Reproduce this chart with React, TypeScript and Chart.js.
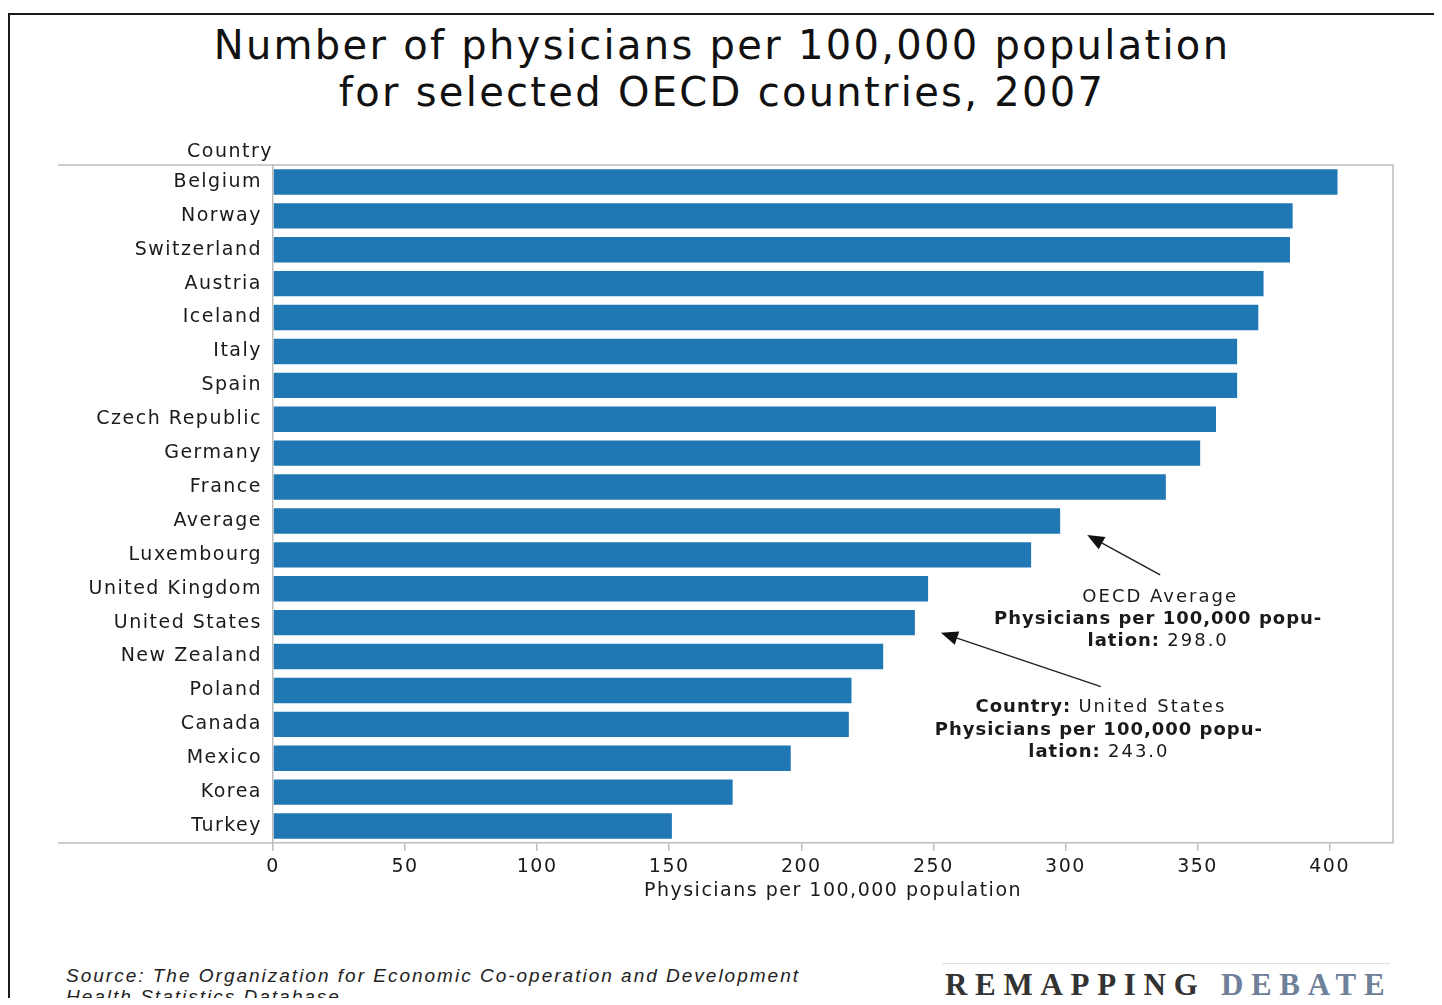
import { useEffect, useRef } from "react";
import { Chart, registerables } from "chart.js";

Chart.register(...registerables);

const countries = [
  "Belgium", "Norway", "Switzerland", "Austria", "Iceland", "Italy", "Spain",
  "Czech Republic", "Germany", "France", "Average", "Luxembourg",
  "United Kingdom", "United States", "New Zealand", "Poland", "Canada",
  "Mexico", "Korea", "Turkey",
];
const physicians = [
  403, 386, 385, 375, 373, 365, 365, 357, 351, 338, 298, 287, 248, 243, 231,
  219, 218, 196, 174, 151,
];
const xStep = 50;
const xMax = 424;
const titleLines = [
  "Number of physicians per 100,000 population",
  "for selected OECD countries, 2007",
];
const xTitle = "Physicians per 100,000 population";
const yTitle = "Country";
const sourceLines = [
  "Source: The Organization for Economic Co-operation and Development",
  "Health Statistics Database",
];
const avgLabel = "Average";
const usLabel = "United States";

const FONT = '"DejaVu Sans", Verdana, sans-serif';
const SPACING = "1.5px";

type Part = [string, boolean];

function drawRich(ctx: CanvasRenderingContext2D, parts: Part[], cx: number, cy: number) {
  const setF = (b: boolean) => {
    ctx.font = (b ? "bold " : "") + "18px " + FONT;
    (ctx as any).letterSpacing = b ? "1px" : "2px";
  };
  const widths = parts.map(([t, b]) => {
    setF(b);
    return ctx.measureText(t).width;
  });
  const total = widths.reduce((a, b) => a + b, 0);
  let x = cx - total / 2;
  ctx.textAlign = "left";
  ctx.textBaseline = "middle";
  parts.forEach(([t, b], i) => {
    setF(b);
    ctx.fillText(t, x, cy);
    x += widths[i];
  });
}

function drawArrow(ctx: CanvasRenderingContext2D, x1: number, y1: number, x2: number, y2: number) {
  const ang = Math.atan2(y2 - y1, x2 - x1);
  const len = 17;
  const half = 7;
  const bx = x2 - len * Math.cos(ang);
  const by = y2 - len * Math.sin(ang);
  ctx.strokeStyle = "#222";
  ctx.fillStyle = "#111";
  ctx.lineWidth = 1.5;
  ctx.beginPath();
  ctx.moveTo(x1, y1);
  ctx.lineTo(bx, by);
  ctx.stroke();
  ctx.beginPath();
  ctx.moveTo(x2, y2);
  ctx.lineTo(bx + half * Math.sin(ang), by - half * Math.cos(ang));
  ctx.lineTo(bx - half * Math.sin(ang), by + half * Math.cos(ang));
  ctx.closePath();
  ctx.fill();
}

const framePlugin = {
  id: "frame",
  beforeLayout(chart: any) {
    chart.ctx.letterSpacing = SPACING;
  },
  beforeDraw(chart: any) {
    chart.ctx.letterSpacing = SPACING;
  },
  afterDraw(chart: any) {
    const ctx: CanvasRenderingContext2D = chart.ctx;
    const ca = chart.chartArea;
    const xs = chart.scales.x;
    const ys = chart.scales.y;
    ctx.save();
    ctx.strokeStyle = "#bdbdbd";
    ctx.lineWidth = 1.5;
    ctx.beginPath();
    ctx.moveTo(ca.left - 215, ca.top);
    ctx.lineTo(ca.right, ca.top);
    ctx.lineTo(ca.right, ca.bottom);
    ctx.moveTo(ca.left - 215, ca.bottom);
    ctx.lineTo(ca.left, ca.bottom);
    ctx.stroke();

    ctx.fillStyle = "#1a1a1a";
    ctx.font = "19px " + FONT;
    (ctx as any).letterSpacing = SPACING;
    ctx.textAlign = "right";
    ctx.textBaseline = "middle";
    ctx.fillText(yTitle, ca.left, ca.top - 13);

    // OECD average annotation
    const ai = countries.indexOf(avgLabel);
    const av = physicians[ai];
    const ahx = xs.getPixelForValue(av) + 27;
    const ahy = ys.getPixelForValue(ai) + 14;
    const atx = ahx + 73;
    const aty = ahy + 40;
    drawArrow(ctx, atx, aty, ahx, ahy);
    ctx.fillStyle = "#1a1a1a";
    drawRich(ctx, [["OECD Average", false]], atx, aty + 22);
    drawRich(ctx, [["Physicians per 100,000 popu-", true]], atx - 2, aty + 44);
    drawRich(ctx, [["lation: ", true], [av.toFixed(1), false]], atx - 2, aty + 66);

    // United States annotation
    const ui = countries.indexOf(usLabel);
    const uv = physicians[ui];
    const uhx = xs.getPixelForValue(uv) + 26;
    const uhy = ys.getPixelForValue(ui) + 10;
    const utx = uhx + 160;
    const uty = uhy + 54;
    drawArrow(ctx, utx, uty, uhx, uhy);
    ctx.fillStyle = "#1a1a1a";
    drawRich(ctx, [["Country: ", true], [usLabel, false]], utx, uty + 21);
    drawRich(ctx, [["Physicians per 100,000 popu-", true]], utx - 2, uty + 44);
    drawRich(ctx, [["lation: ", true], [uv.toFixed(1), false]], utx - 2, uty + 66);
    ctx.restore();
  },
};

export default function App() {
  const ref = useRef<HTMLCanvasElement>(null);
  useEffect(() => {
    document.body.style.overflow = "hidden";
    const chart = new Chart(ref.current!, {
      type: "bar",
      data: {
        labels: countries,
        datasets: [
          {
            data: physicians,
            backgroundColor: "#1f77b4",
            borderWidth: 0,
            categoryPercentage: 1,
            barPercentage: 0.75,
          },
        ],
      },
      plugins: [framePlugin],
      options: {
        indexAxis: "y",
        animation: false,
        responsive: false,
        layout: { padding: { top: 150, left: 0, right: 49, bottom: 0 } },
        plugins: {
          legend: { display: false },
          title: { display: false },
          tooltip: { enabled: false },
        },
        scales: {
          x: {
            type: "linear",
            min: 0,
            max: xMax,
            afterFit: (s: any) => {
              s.height = 72;
            },
            grid: {
              display: true,
              drawOnChartArea: false,
              drawTicks: true,
              tickLength: 8,
              color: "#bdbdbd",
              lineWidth: 1.5,
            },
            border: { display: true, color: "#bdbdbd", width: 1.5 },
            ticks: {
              stepSize: xStep,
              includeBounds: false,
              color: "#1a1a1a",
              padding: 5,
              maxRotation: 0,
              font: { family: FONT, size: 19 },
            },
            title: {
              display: true,
              text: xTitle,
              color: "#1a1a1a",
              font: { family: FONT, size: 19 },
              padding: { top: 0, bottom: 13 },
            },
          },
          y: {
            type: "category",
            afterFit: (s: any) => {
              s.width = 263;
            },
            grid: { display: false, drawTicks: false },
            border: { display: true, color: "#bdbdbd", width: 1.5 },
            ticks: {
              color: "#1a1a1a",
              padding: 11,
              autoSkip: false,
              font: { family: FONT, size: 19 },
            },
          },
        },
      } as any,
    });
    return () => chart.destroy();
  }, []);

  return (
    <div
      style={{
        position: "relative",
        top: 5,
        width: 1432,
        height: 988,
        borderTop: "2px solid #1a1a1a",
        borderLeft: "2px solid #1a1a1a",
        background: "#fff",
      }}
    >
      <div
        style={{
          position: "absolute",
          top: 7,
          left: -4,
          width: 1432,
          textAlign: "center",
          fontFamily: FONT,
          fontSize: 40,
          lineHeight: "47px",
          letterSpacing: "2.3px",
          color: "#111",
        }}
      >
        {titleLines.map((t, i) => (
          <div key={i}>{t}</div>
        ))}
      </div>
      <canvas
        ref={ref}
        width={1432}
        height={900}
        style={{ position: "absolute", left: 0, top: 0 }}
      />
      <div
        style={{
          position: "absolute",
          left: 56,
          top: 950,
          fontFamily: '"Liberation Sans", Arial, sans-serif',
          fontStyle: "italic",
          fontSize: 19,
          lineHeight: "21px",
          letterSpacing: "2px",
          color: "#222",
          whiteSpace: "nowrap",
        }}
      >
        {sourceLines.map((t, i) => (
          <div key={i}>{t}</div>
        ))}
      </div>
      <div
        style={{
          position: "absolute",
          left: 932,
          top: 948,
          width: 448,
          borderTop: "1px solid #e2e2e2",
        }}
      />
      <div
        style={{
          position: "absolute",
          left: 935,
          top: 950,
          fontFamily: '"Liberation Serif", "DejaVu Serif", serif',
          fontWeight: "bold",
          fontSize: 31,
          lineHeight: "40px",
          letterSpacing: "7.7px",
          whiteSpace: "nowrap",
        }}
      >
        <span style={{ color: "#333" }}>REMAPPING </span>
        <span style={{ color: "#6f819a" }}>DEBATE</span>
      </div>
      <div
        style={{
          position: "absolute",
          left: 932,
          top: 989,
          width: 448,
          borderTop: "1px solid #eeeeee",
        }}
      />
      <div
        style={{
          position: "absolute",
          left: 1212,
          top: 984,
          fontFamily: '"Liberation Serif", serif',
          fontSize: 11,
          color: "#8b2525",
          whiteSpace: "nowrap",
        }}
      >
        Asking “Why” and “Why Not”
      </div>
    </div>
  );
}
